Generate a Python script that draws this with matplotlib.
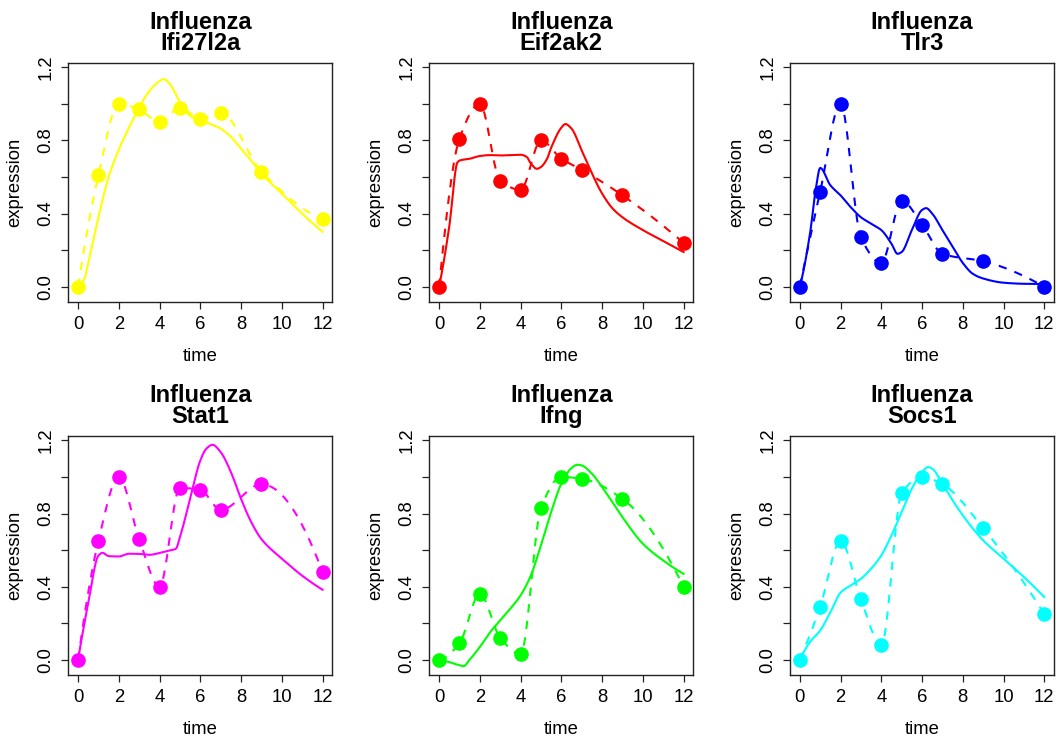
import numpy as np
import matplotlib
matplotlib.use("Agg")
import matplotlib.pyplot as plt

plt.rcParams['font.family'] = ['Liberation Sans', 'DejaVu Sans']

# observed time points (same for every gene)
time = [0, 1, 2, 3, 4, 5, 6, 7, 9, 12]

genes = ['Ifi27l2a', 'Eif2ak2', 'Tlr3', 'Stat1', 'Ifng', 'Socs1']
colors = ['#ffff00', '#ff0000', '#0000ff', '#ff00ff', '#00ff00', '#00ffff']

# measured expression
obs_ifi27l2a = [0.0, 0.61, 1.0, 0.97, 0.90, 0.98, 0.92, 0.95, 0.63, 0.37]
obs_eif2ak2 = [0.0, 0.81, 1.0, 0.58, 0.53, 0.80, 0.70, 0.64, 0.50, 0.24]
obs_tlr3 = [0.0, 0.52, 1.0, 0.27, 0.13, 0.47, 0.34, 0.18, 0.14, 0.0]
obs_stat1 = [0.0, 0.65, 1.0, 0.66, 0.40, 0.94, 0.93, 0.82, 0.96, 0.48]
obs_ifng = [0.0, 0.09, 0.36, 0.12, 0.03, 0.83, 1.0, 0.99, 0.88, 0.40]
obs_socs1 = [0.0, 0.29, 0.65, 0.33, 0.08, 0.91, 1.0, 0.96, 0.72, 0.25]

# model fit (solid lines)
fit_t_ifi27l2a = [0, 0.3, 0.5, 1, 1.5, 2, 2.5, 3, 3.5, 4, 4.2, 4.5, 5, 5.5, 6, 6.5, 7, 7.5, 8, 8.5, 9, 10, 11, 12]
fit_ifi27l2a = [0.0, 0.04, 0.13, 0.38, 0.60, 0.75, 0.87, 0.98, 1.07, 1.125, 1.136, 1.11, 1.01, 0.935, 0.91, 0.89, 0.865, 0.82, 0.755, 0.69, 0.62, 0.51, 0.40, 0.30]

fit_t_eif2ak2 = [0, 0.5, 0.9, 1, 1.5, 2, 2.5, 3, 3.5, 4, 4.3, 4.5, 4.8, 5, 5.3, 5.5, 6, 6.2, 6.5, 7, 7.5, 8, 8.5, 9, 10, 11, 12]
fit_eif2ak2 = [0.0, 0.33, 0.68, 0.69, 0.70, 0.715, 0.72, 0.718, 0.72, 0.722, 0.71, 0.675, 0.645, 0.655, 0.70, 0.76, 0.87, 0.89, 0.865, 0.745, 0.62, 0.51, 0.43, 0.38, 0.31, 0.25, 0.19]

fit_t_tlr3 = [0, 0.5, 0.8, 1, 1.5, 2, 2.5, 3, 3.5, 4, 4.5, 4.8, 5, 5.5, 6, 6.2, 6.5, 7, 7.5, 8, 8.5, 9, 10, 11, 12]
fit_tlr3 = [0.0, 0.29, 0.545, 0.65, 0.555, 0.50, 0.435, 0.38, 0.345, 0.31, 0.235, 0.18, 0.19, 0.31, 0.42, 0.43, 0.40, 0.31, 0.22, 0.13, 0.07, 0.045, 0.022, 0.016, 0.015]

fit_t_stat1 = [0, 0.5, 1, 1.2, 1.5, 2, 2.5, 3, 3.5, 4, 4.5, 4.8, 5, 5.5, 6, 6.3, 6.6, 7, 7.5, 8, 8.5, 9, 10, 11, 12]
fit_stat1 = [0.0, 0.31, 0.57, 0.585, 0.567, 0.565, 0.58, 0.579, 0.574, 0.584, 0.598, 0.607, 0.67, 0.88, 1.09, 1.155, 1.176, 1.136, 1.027, 0.88, 0.753, 0.66, 0.553, 0.46, 0.383]

fit_t_ifng = [0, 0.5, 1, 1.2, 1.5, 2, 2.5, 3, 3.5, 4, 4.5, 5, 5.5, 6, 6.5, 6.8, 7, 7.5, 8, 8.5, 9, 10, 11, 12]
fit_ifng = [0.0, -0.013, -0.03, -0.035, 0.0, 0.07, 0.15, 0.215, 0.28, 0.352, 0.46, 0.626, 0.808, 0.963, 1.049, 1.067, 1.063, 1.018, 0.945, 0.863, 0.78, 0.635, 0.543, 0.47]

fit_t_socs1 = [0, 0.5, 1, 1.5, 2, 2.5, 3, 3.5, 4, 4.5, 5, 5.5, 6, 6.3, 6.5, 7, 7.5, 8, 8.5, 9, 10, 11, 12]
fit_socs1 = [0.0, 0.097, 0.16, 0.26, 0.367, 0.407, 0.443, 0.498, 0.571, 0.68, 0.808, 0.936, 1.027, 1.054, 1.045, 0.963, 0.872, 0.79, 0.717, 0.653, 0.553, 0.453, 0.343]

observed = [obs_ifi27l2a, obs_eif2ak2, obs_tlr3, obs_stat1, obs_ifng, obs_socs1]
fit_times = [fit_t_ifi27l2a, fit_t_eif2ak2, fit_t_tlr3, fit_t_stat1, fit_t_ifng, fit_t_socs1]
fits = [fit_ifi27l2a, fit_eif2ak2, fit_tlr3, fit_stat1, fit_ifng, fit_socs1]


def smooth_line(x, y, n=300):
    # monotone cubic (pchip) curve through the given points, for drawing
    x = np.asarray(x, float)
    y = np.asarray(y, float)
    k = len(x)
    h = np.diff(x)
    d = np.diff(y) / h
    m = np.zeros(k)
    for i in range(1, k - 1):
        if d[i - 1] * d[i] > 0:
            w1 = 2 * h[i] + h[i - 1]
            w2 = h[i] + 2 * h[i - 1]
            m[i] = (w1 + w2) / (w1 / d[i - 1] + w2 / d[i])

    def end_slope(h0, h1, d0, d1):
        s = ((2 * h0 + h1) * d0 - h0 * d1) / (h0 + h1)
        if np.sign(s) != np.sign(d0):
            return 0.0
        if np.sign(d0) != np.sign(d1) and abs(s) > abs(3 * d0):
            return 3 * d0
        return s

    m[0] = end_slope(h[0], h[1], d[0], d[1])
    m[-1] = end_slope(h[-1], h[-2], d[-1], d[-2])
    xs = np.linspace(x[0], x[-1], n)
    j = np.clip(np.searchsorted(x, xs) - 1, 0, k - 2)
    hh = h[j]
    s = (xs - x[j]) / hh
    h00 = 2 * s**3 - 3 * s**2 + 1
    h10 = s**3 - 2 * s**2 + s
    h01 = -2 * s**3 + 3 * s**2
    h11 = s**3 - s**2
    ys = h00 * y[j] + h10 * hh * m[j] + h01 * y[j + 1] + h11 * hh * m[j + 1]
    return xs, ys


fig = plt.figure(figsize=(10.6, 7.4), dpi=100)

lefts = [0.0644, 0.405, 0.7453]
bottoms = [0.5919, 0.0878]
w, h = 0.2491, 0.3235

for i, gene in enumerate(genes):
    ax = fig.add_axes([lefts[i % 3], bottoms[i // 3], w, h])
    col = colors[i]
    xs, ys = smooth_line(time, observed[i])
    ax.plot(xs, ys, color=col, lw=1.5, dashes=(4, 4))
    xf, yf = smooth_line(fit_times[i], fits[i])
    ax.plot(xf, yf, color=col, lw=1.5)
    ax.plot(time, observed[i], 'o', color=col, ms=9.5, mec=col)

    ax.set_xlim(-0.48, 12.48)
    ax.set_ylim(-0.0835, 1.226)
    ax.set_xticks([0, 2, 4, 6, 8, 10, 12])
    ax.set_yticks([0, 0.2, 0.4, 0.6, 0.8, 1.0, 1.2])
    ax.set_yticklabels(['0.0', '', '0.4', '', '0.8', '', '1.2'], rotation=90, va='center')
    ax.tick_params(direction='out', length=5, width=0.9, labelsize=13.3, pad=5, color='#222222')
    for s in ax.spines.values():
        s.set_linewidth(1.0)
        s.set_color('#222222')
    ax.set_xlabel('time', fontsize=13.3, labelpad=11)
    ax.set_ylabel('expression', fontsize=13.3, labelpad=10)
    ax.set_title('Influenza\n' + gene, fontsize=17, fontweight='bold', pad=9, linespacing=0.88)

fig.savefig('out.png', dpi=100)
